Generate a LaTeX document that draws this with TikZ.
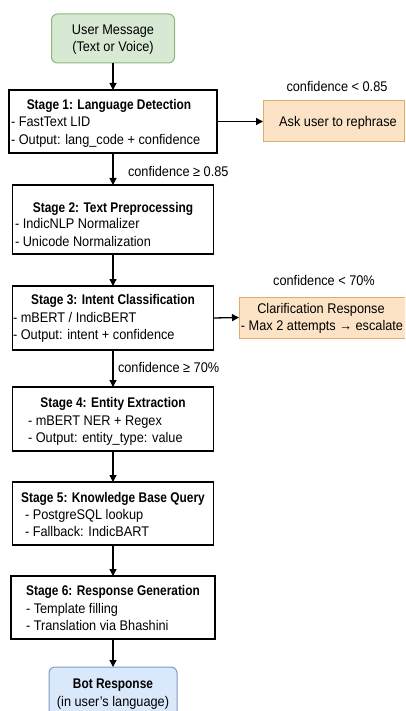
\documentclass[tikz,border=0pt]{standalone}
\usepackage{fontspec}
\setmainfont{Liberation Sans}[FakeStretch=0.91]
\newfontfamily\headfont{Liberation Sans}[FakeStretch=0.85]
\usetikzlibrary{arrows.meta}
\definecolor{startfill}{HTML}{D7E9D3}
\definecolor{startline}{HTML}{8DB87A}
\definecolor{endfill}{HTML}{DAE8FC}
\definecolor{endline}{HTML}{7F9BC4}
\definecolor{warnfill}{HTML}{FCE3C6}
\definecolor{warnline}{HTML}{DCAE6C}
\begin{document}
\begin{tikzpicture}[x=1pt,y=-1pt,
  every node/.style={inner sep=0pt, outer sep=0pt},
  txt/.style={font=\fontsize{14}{17}\selectfont},
  ttl/.style={font=\headfont\fontsize{14}{17}\selectfont\bfseries},
  stagebox/.style={draw=black, line width=1.3pt, fill=white},
  termbox/.style={line width=1pt, rounded corners=6pt},
  warnbox/.style={draw=warnline, fill=warnfill, line width=1pt},
  flow/.style={line width=1.3pt, -{Triangle[length=7pt,width=7pt]}},
]
\useasboundingbox (0,0) rectangle (405,711);
\clip (0,0) rectangle (405,711);

% terminal boxes
\node[termbox, draw=startline, fill=startfill, minimum width=123pt, minimum height=49pt] (user) at (113,38.5) {};
\node[txt, anchor=base] (userA) at (113,35) {User Message};
\node[txt, anchor=base] (userB) at (113,52) {(Text or Voice)};

\node[termbox, draw=endline, fill=endfill, minimum width=128pt, minimum height=60pt, anchor=north] (bot) at (113,667) {};
\node[ttl, anchor=base] (botA) at (113,688) {Bot Response};
\node[txt, anchor=base] (botB) at (113,706) {(in user's language)};

% stage 1
\node[stagebox, minimum width=208pt, minimum height=63pt] (s1) at (113,121.5) {};
\node[ttl, anchor=base] (s1t) at (109,110) {Stage 1: Language Detection};
\node[txt, anchor=base west] (s1a) at (11,127) {- FastText LID};
\node[txt, anchor=base west] (s1b) at (11,145) {- Output: lang\_code + confidence};

% stage 2
\node[stagebox, minimum width=201pt, minimum height=69pt] (s2) at (113,219.5) {};
\node[ttl, anchor=base] (s2t) at (113,212) {Stage 2: Text Preprocessing};
\node[txt, anchor=base west] (s2a) at (15,229) {- IndicNLP Normalizer};
\node[txt, anchor=base west] (s2b) at (15,246) {- Unicode Normalization};

% stage 3
\node[stagebox, minimum width=201pt, minimum height=64pt] (s3) at (113,318) {};
\node[ttl, anchor=base] (s3t) at (113,304) {Stage 3: Intent Classification};
\node[txt, anchor=base west] (s3a) at (13,322) {- mBERT / IndicBERT};
\node[txt, anchor=base west] (s3b) at (13,339) {- Output: intent + confidence};

% stage 4
\node[stagebox, minimum width=201pt, minimum height=64pt] (s4) at (113,419) {};
\node[ttl, anchor=base] (s4t) at (113,407) {Stage 4: Entity Extraction};
\node[txt, anchor=base west] (s4a) at (28,425) {- mBERT NER + Regex};
\node[txt, anchor=base west] (s4b) at (28,442) {- Output: entity\_type: value};

% stage 5
\node[stagebox, minimum width=201pt, minimum height=63pt] (s5) at (113,513.5) {};
\node[ttl, anchor=base] (s5t) at (113,502) {Stage 5: Knowledge Base Query};
\node[txt, anchor=base west] (s5a) at (25,519) {- PostgreSQL lookup};
\node[txt, anchor=base west] (s5b) at (25,536) {- Fallback: IndicBART};

% stage 6
\node[stagebox, minimum width=204pt, minimum height=63pt] (s6) at (113,607.5) {};
\node[ttl, anchor=base] (s6t) at (113,595) {Stage 6: Response Generation};
\node[txt, anchor=base west] (s6a) at (26,613) {- Template filling};
\node[txt, anchor=base west] (s6b) at (26,630) {- Translation via Bhashini};

% side branches
\node[warnbox, minimum width=141pt, minimum height=41pt] (ask) at (333.5,121.5) {};
\node[txt, anchor=base] (askt) at (338,126.5) {Ask user to rephrase};

\node[warnbox, minimum width=175pt, minimum height=41pt, anchor=west] (clar) at (239,317.5) {};
\node[txt, anchor=base] (clara) at (321,313.5) {Clarification Response};
\node[txt, anchor=base] (clarb) at (322,330.5) {- Max 2 attempts → escalate};

% flow
\draw[flow] (user) -- (s1);
\draw[flow] (s1) -- (s2);
\draw[flow] (s2) -- (s3);
\draw[flow] (s3) -- (s4);
\draw[flow] (s4) -- (s5);
\draw[flow] (s5) -- (s6);
\draw[flow] (s6) -- (bot);
\draw[flow] (s1.east) -- (ask.west);
\draw[flow] (s3.east) -- (clar.west);

% branch conditions
\node[txt, anchor=base] (c1) at (337,92) {confidence < 0.85};
\node[txt, anchor=base west] (c2) at (128,177) {confidence ≥ 0.85};
\node[txt, anchor=base] (c3) at (324,285) {confidence < 70\%};
\node[txt, anchor=base west] (c4) at (118,372) {confidence ≥ 70\%};
\end{tikzpicture}
\end{document}
